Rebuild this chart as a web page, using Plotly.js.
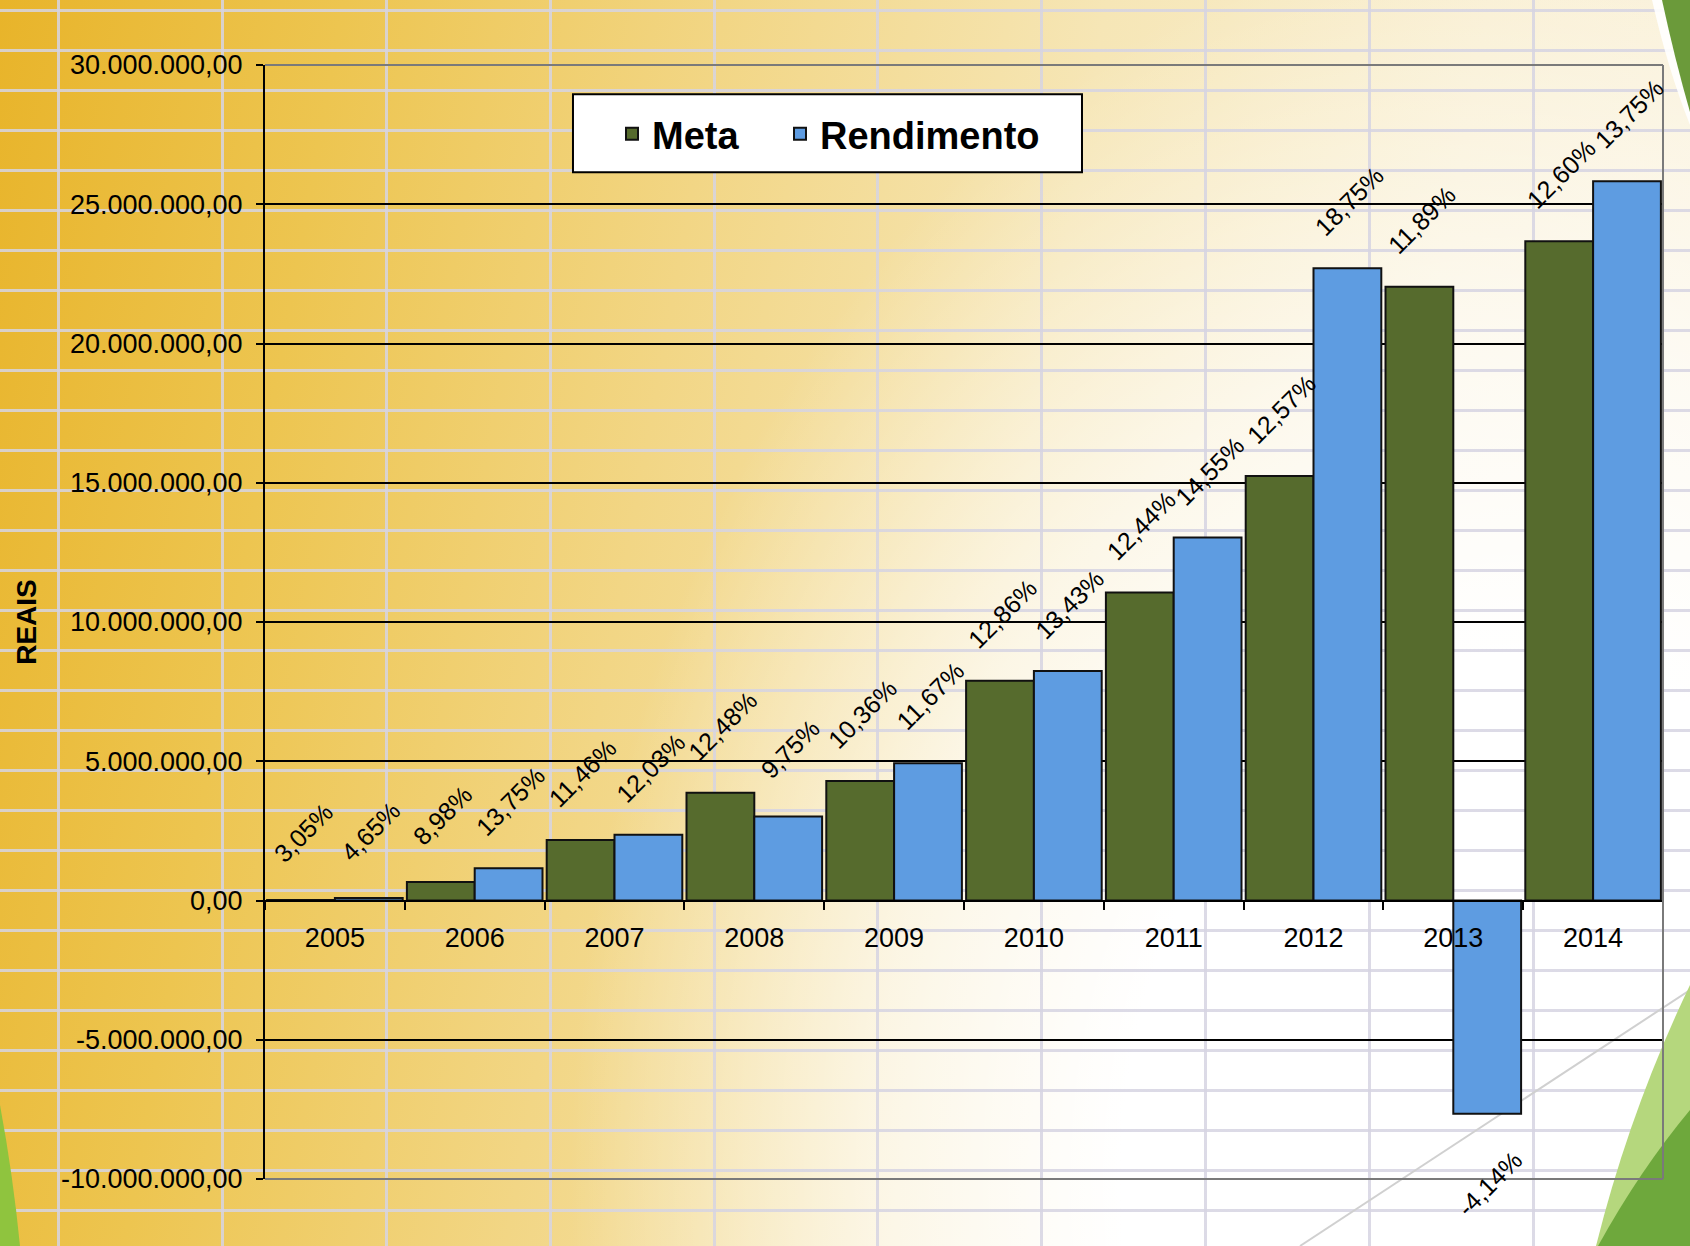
<!DOCTYPE html>
<html>
<head>
<meta charset="utf-8">
<script src="https://cdn.plot.ly/plotly-3.0.1.min.js"></script>
<style>
  html, body { margin:0; padding:0; width:1690px; height:1246px; overflow:hidden; }
  #bg {
    position:absolute; left:0; top:0; width:1690px; height:1246px;
    background-image:
      repeating-linear-gradient(180deg, transparent 0px, transparent 9px, rgba(214,212,226,0.85) 9px, rgba(214,212,226,0.85) 12px, transparent 12px, transparent 40px),
      repeating-linear-gradient(90deg, transparent 0px, transparent 57px, rgba(214,212,226,0.85) 57px, rgba(214,212,226,0.85) 60px, transparent 60px, transparent 163.9px),
      radial-gradient(ellipse 950px 1250px at 1520px 1180px, #ffffff 0%, #ffffff 42%, rgba(255,255,255,0.65) 68%, rgba(255,255,255,0) 100%),
      linear-gradient(100deg, #e8b42a 0%, #edc550 18%, #f2d685 38%, #f6e6b6 58%, #f9efd2 78%, #fbf4e2 100%);
  }
  #deco { position:absolute; left:0; top:0; }
  #chart { position:absolute; left:0; top:0; width:1690px; height:1246px; }
</style>
</head>
<body>
<div id="bg"></div>
<svg id="deco" width="1690" height="1246" viewBox="0 0 1690 1246">
  <line x1="1300" y1="1246" x2="1690" y2="990" stroke="#d0d0d0" stroke-width="2"/>
  <path d="M1690,985 Q1630,1110 1596,1246 L1690,1246 Z" fill="#b5d77d"/>
  <path d="M1690,1110 Q1640,1170 1598,1246 L1690,1246 Z" fill="#6ea83c"/>
  <path d="M1652,0 Q1668,70 1690,125 L1690,0 Z" fill="#ffffff" opacity="0.9"/>
  <path d="M1662,0 Q1675,60 1690,112 L1690,0 Z" fill="#6b9a3a"/>
  <path d="M0,1105 Q13,1175 20,1246 L0,1246 Z" fill="#8fc43e"/>
</svg>
<div id="chart"></div>
<script>
const years = ['2005','2006','2007','2008','2009','2010','2011','2012','2013','2014'];
const meta = [20000, 660000, 2170000, 3870000, 4290000, 7890000, 11060000, 15240000, 22040000, 23670000];
const rendimento = [90000, 1160000, 2360000, 3020000, 4930000, 8240000, 13030000, 22700000, -7660000, 25830000];
const metaPct = ['3,05%','8,98%','11,46%','12,48%','10,36%','12,86%','12,44%','12,57%','11,89%','12,60%'];
const rendPct = ['4,65%','13,75%','12,03%','9,75%','11,67%','13,43%','14,55%','18,75%','-4,14%','13,75%'];
const yTickVals = [-10000000, -5000000, 0, 5000000, 10000000, 15000000, 20000000, 25000000, 30000000];
const yTickText = ['-10.000.000,00','-5.000.000,00','0,00','5.000.000,00','10.000.000,00','15.000.000,00','20.000.000,00','25.000.000,00','30.000.000,00'];

const FONT = 'Liberation Sans, Arial, Helvetica, sans-serif';
const GREEN = '#566b2d';
const BLUE = '#5e9ce1';
const BARGAP = 0.03;
const half = (1 - BARGAP) / 4;

const traces = [
  { type:'bar', name:'Meta', x:years, y:meta, legend:'legend',
    marker:{ color:GREEN, line:{ color:'#111', width:2 } }, hoverinfo:'y' },
  { type:'bar', name:'Rendimento', x:years, y:rendimento, legend:'legend2',
    marker:{ color:BLUE, line:{ color:'#111', width:2 } }, hoverinfo:'y' }
];

const annotations = [];
function addLabels(vals, labels, dx) {
  vals.forEach((v, i) => {
    annotations.push({
      x: i + dx, y: v, xref:'x', yref:'y', text: labels[i], showarrow:false,
      textangle:-45, xanchor:'center', yanchor:'middle',
      xshift: 2, yshift: v >= 0 ? 67 : -70,
      font:{ family:FONT, size:25, color:'#000' }
    });
  });
}
addLabels(meta, metaPct, -half);
addLabels(rendimento, rendPct, half);

const legendFont = { family:FONT, size:38, weight:'bold', color:'#000' };

const layout = {
  width:1690, height:1246,
  margin:{ l:265, r:27, t:65, b:67 },
  paper_bgcolor:'rgba(0,0,0,0)', plot_bgcolor:'rgba(0,0,0,0)',
  barmode:'group', bargap:BARGAP, bargroupgap:0,
  font:{ family:FONT, color:'#000' },
  showlegend:true,
  legend:{
    orientation:'h', x:0.2482, y:0.938, xanchor:'left', yanchor:'middle',
    bgcolor:'rgba(0,0,0,0)', borderwidth:0, font:legendFont
  },
  legend2:{
    orientation:'h', x:0.3684, y:0.938, xanchor:'left', yanchor:'middle',
    bgcolor:'rgba(0,0,0,0)', borderwidth:0, font:legendFont
  },
  xaxis:{
    type:'category', range:[-0.5, years.length - 0.5], autorange:false,
    anchor:'free', position:0.25, automargin:false,
    showline:true, linecolor:'#000', linewidth:2,
    ticks:'outside', tickson:'boundaries', ticklen:8, tickwidth:2, tickcolor:'#000',
    ticklabelstandoff:13,
    showgrid:false, zeroline:false, fixedrange:true,
    tickfont:{ family:FONT, size:27, color:'#000' }
  },
  yaxis:{
    range:[-10000000, 30000000], autorange:false, tickvals:yTickVals, ticktext:yTickText, automargin:false,
    showline:true, linecolor:'#000', linewidth:2,
    ticks:'outside', ticklen:7, tickwidth:2, tickcolor:'#000',
    ticklabelstandoff:8,
    showgrid:true, gridcolor:'#000', gridwidth:2,
    zeroline:true, zerolinecolor:'#000', zerolinewidth:2, fixedrange:true,
    tickfont:{ family:FONT, size:27, color:'#000' },
    title:{ text:'REAIS', standoff:16, font:{ family:FONT, size:28, weight:'bold', color:'#000' } }
  },
  shapes:[
    { type:'rect', xref:'paper', yref:'paper', x0:0.2203, x1:0.5844, y0:0.9037, y1:0.9737,
      fillcolor:'#ffffff', line:{ color:'#000', width:2 }, layer:'below' },
    { type:'line', xref:'paper', yref:'paper', x0:0, x1:1, y0:1, y1:1, line:{ color:'#7a7a7a', width:2 }, layer:'above' },
    { type:'line', xref:'paper', yref:'paper', x0:1, x1:1, y0:0, y1:1, line:{ color:'#7a7a7a', width:2 }, layer:'above' },
    { type:'line', xref:'paper', yref:'paper', x0:0, x1:1, y0:0, y1:0, line:{ color:'#7a7a7a', width:2 }, layer:'above' }
  ],
  annotations: annotations
};

Plotly.newPlot('chart', traces, layout, { displayModeBar:false, staticPlot:true });
</script>
</body>
</html>
